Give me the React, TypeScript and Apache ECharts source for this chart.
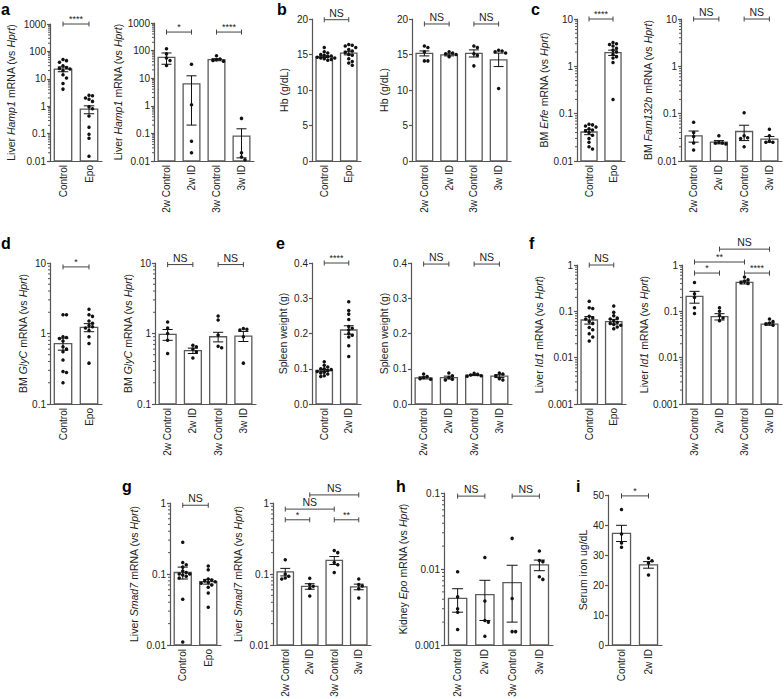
import React, { useEffect, useRef } from 'react';
import * as echarts from 'echarts';

const FONT = '"Liberation Sans", Arial, Helvetica, sans-serif';

// ---------- categories ----------
const catsEpo = ['Control', 'Epo'];
const catsWeeks = ['2w Control', '2w ID', '3w Control', '3w ID'];
const catsSpleen = ['Control', '2w ID'];
const catsId1Weeks = ['3w Control', '2w ID', '3w Control', '3w ID'];
const catsIron = ['Control', '2w ID'];

type Sig = [number, number, number, string];

// ---------- a: Liver Hamp1 ----------
const hampEpoMean = [22.6, 0.78];
const hampEpoSem = [4.5, 0.25];
const hampEpoPts = [
  [51, 46, 40, 30, 26, 24, 22.6, 19.6, 14, 10.6, 6.7, 4.2],
  [2.5, 2.4, 2.0, 1.8, 1.5, 0.95, 0.8, 0.44, 0.17, 0.095, 0.068, 0.015],
];
const hampEpoSig: Sig[] = [[0, 1, 1000, '****']];

const hampWkMean = [57, 6.2, 47, 0.08];
const hampWkSem = [25, 6, 4, 0.067];
const hampWkPts = [
  [117, 76, 54, 44, 29],
  [32, 1.1, 0.052, 0.02],
  [65, 50, 47, 44, 41],
  [0.35, 0.02, 0.014, 0.011],
];
const hampWkSig: Sig[] = [[0, 1, 470, '*'], [2, 3, 470, '****']];

// ---------- b: Hb ----------
const hbEpoMean = [14.7, 15.2];
const hbEpoSem = [0.12, 0.25];
const hbEpoPts = [
  [16.0, 15.4, 15.2, 15.0, 14.9, 14.8, 14.7, 14.6, 14.5, 14.5, 14.4, 14.3, 14.2],
  [16.4, 16.3, 16.2, 16.0, 15.7, 15.5, 15.3, 15.0, 14.9, 14.4, 14.0, 13.8, 13.5],
];
const hbEpoSig: Sig[] = [[0, 1, 19.9, 'NS']];

const hbWkMean = [15.15, 14.95, 15.15, 14.25];
const hbWkSem = [0.35, 0.15, 0.5, 0.95];
const hbWkPts = [
  [16.2, 16.0, 15.4, 14.1, 14.1],
  [15.4, 15.2, 15.1, 15.0, 14.7],
  [16.2, 16.0, 15.1, 14.9, 13.4],
  [15.6, 15.5, 15.4, 15.2, 10.2],
];
const hbWkSig: Sig[] = [[0, 1, 19.3, 'NS'], [2, 3, 19.3, 'NS']];

// ---------- c: BM Erfe / Fam132b ----------
const erfeMean = [0.041, 1.95];
const erfeSem = [0.005, 0.25];
const erfePts = [
  [0.06, 0.058, 0.055, 0.052, 0.048, 0.045, 0.043, 0.04, 0.035, 0.03, 0.025, 0.02, 0.018],
  [3.2, 3.0, 2.9, 2.7, 2.4, 2.2, 2.0, 1.8, 1.6, 1.5, 1.2, 0.2],
];
const erfeSig: Sig[] = [[0, 1, 10, '****']];

const famMean = [0.034, 0.025, 0.042, 0.029];
const famSem = [0.009, 0.002, 0.015, 0.004];
const famPts = [
  [0.066, 0.04, 0.033, 0.024, 0.017],
  [0.034, 0.025, 0.024, 0.024, 0.023],
  [0.105, 0.034, 0.031, 0.03, 0.02],
  [0.047, 0.034, 0.026, 0.025, 0.025],
];
const famSig: Sig[] = [[0, 1, 10, 'NS'], [2, 3, 10, 'NS']];

// ---------- d: BM GlyC ----------
const glyEpoMean = [0.72, 1.22];
const glyEpoSem = [0.14, 0.16];
const glyEpoPts = [
  [1.85, 1.85, 0.9, 0.88, 0.85, 0.78, 0.65, 0.6, 0.55, 0.42, 0.29, 0.28, 0.2],
  [2.2, 1.85, 1.75, 1.5, 1.4, 1.3, 1.25, 1.2, 1.1, 0.9, 0.72, 0.38],
];
const glyEpoSig: Sig[] = [[0, 1, 8.8, '*']];

const glyWkMean = [0.97, 0.57, 0.9, 0.92];
const glyWkSem = [0.17, 0.05, 0.14, 0.15];
const glyWkPts = [
  [1.46, 1.2, 1.0, 0.8, 0.52],
  [0.68, 0.65, 0.6, 0.55, 0.45],
  [1.77, 1.55, 0.95, 0.66, 0.63],
  [1.18, 1.15, 1.12, 0.9, 0.38],
];
const glyWkSig: Sig[] = [[0, 1, 9.5, 'NS'], [2, 3, 9.5, 'NS']];

// ---------- e: Spleen weight ----------
const spleenMean = [0.095, 0.21];
const spleenSem = [0.003, 0.012];
const spleenPts = [
  [0.12, 0.11, 0.105, 0.1, 0.1, 0.098, 0.095, 0.092, 0.09, 0.088, 0.085, 0.08, 0.078],
  [0.29, 0.265, 0.255, 0.24, 0.22, 0.215, 0.21, 0.2, 0.195, 0.19, 0.165, 0.135],
];
const spleenSig: Sig[] = [[0, 1, 0.4, '****']];

const spleenWkMean = [0.074, 0.075, 0.082, 0.079];
const spleenWkSem = [0.003, 0.004, 0.0015, 0.004];
const spleenWkPts = [
  [0.085, 0.078, 0.075, 0.072, 0.07],
  [0.088, 0.08, 0.075, 0.07, 0.068],
  [0.087, 0.084, 0.082, 0.08, 0.079],
  [0.088, 0.085, 0.08, 0.072, 0.068],
];
const spleenWkSig: Sig[] = [[0, 1, 0.397, 'NS'], [2, 3, 0.397, 'NS']];

// ---------- f: Liver Id1 ----------
const id1EpoMean = [0.065, 0.06];
const id1EpoSem = [0.012, 0.007];
const id1EpoPts = [
  [0.165, 0.12, 0.115, 0.078, 0.072, 0.068, 0.06, 0.055, 0.045, 0.04, 0.033, 0.028, 0.023],
  [0.13, 0.095, 0.08, 0.072, 0.068, 0.062, 0.058, 0.055, 0.052, 0.05, 0.046, 0.042],
];
const id1EpoSig: Sig[] = [[0, 1, 1, 'NS']];

const id1WkMean = [0.21, 0.077, 0.42, 0.053];
const id1WkSem = [0.06, 0.012, 0.03, 0.003];
const id1WkPts = [
  [0.42, 0.24, 0.2, 0.12, 0.09],
  [0.12, 0.1, 0.081, 0.072, 0.063],
  [0.55, 0.48, 0.45, 0.42, 0.4],
  [0.068, 0.06, 0.056, 0.053, 0.05],
];
const id1WkSig: Sig[] = [[1, 3, 2.2, 'NS'], [0, 2, 1.16, '**'], [0, 1, 0.67, '*'], [2, 3, 0.67, '****']];

// ---------- g: Liver Smad7 ----------
const smadEpoMean = [0.105, 0.078];
const smadEpoSem = [0.02, 0.006];
const smadEpoPts = [
  [0.28, 0.145, 0.135, 0.125, 0.11, 0.105, 0.1, 0.1, 0.097, 0.093, 0.088, 0.044, 0.011],
  [0.13, 0.115, 0.085, 0.082, 0.08, 0.078, 0.076, 0.074, 0.07, 0.065, 0.054, 0.034],
];
const smadEpoSig: Sig[] = [[0, 1, 0.93, 'NS']];

const smadWkMean = [0.107, 0.067, 0.156, 0.066];
const smadWkSem = [0.013, 0.006, 0.02, 0.006];
const smadWkPts = [
  [0.159, 0.1, 0.093, 0.088, 0.085],
  [0.087, 0.071, 0.067, 0.063, 0.049],
  [0.215, 0.2, 0.145, 0.135, 0.105],
  [0.085, 0.071, 0.068, 0.062, 0.046],
];
const smadWkSig: Sig[] = [[1, 3, 1.3, 'NS'], [0, 2, 0.82, 'NS'], [0, 1, 0.58, '*'], [2, 3, 0.58, '**']];

// ---------- h: Kidney Epo ----------
const epoMean = [0.0041, 0.0046, 0.0066, 0.0113];
const epoSem = [0.0014, 0.0025, 0.0046, 0.0018];
const epoPts = [
  [0.0092, 0.0043, 0.003, 0.0027, 0.0016],
  [0.0142, 0.0038, 0.0021, 0.002, 0.0013],
  [0.0253, 0.0041, 0.0015, 0.0015],
  [0.0172, 0.0129, 0.0125, 0.0079, 0.0073],
];
const epoSig: Sig[] = [[0, 1, 0.091, 'NS'], [2, 3, 0.091, 'NS']];

// ---------- i: Serum iron ----------
const ironMean = [37.2, 26.7];
const ironSem = [2.7, 1.1];
const ironPts = [
  [45.2, 37, 34, 32.6],
  [28.9, 28.1, 27.3, 23.3],
];
const ironSig: Sig[] = [[0, 1, 49.7, '*']];

// ---------- layout (positions only) ----------
interface Panel {
  cats: string[]; mean: number[]; sem: number[]; pts: number[][]; sig: Sig[];
  log: boolean; min: number; max: number; interval?: number; fixed?: number;
  name: string; box: [number, number, number, number]; gap: number;
}

const panels: Panel[] = [
  { cats: catsEpo, mean: hampEpoMean, sem: hampEpoSem, pts: hampEpoPts, sig: hampEpoSig, log: true, min: 0.01, max: 1000, name: 'Liver {i|Hamp1} mRNA (vs {i|Hprt})', box: [50, 24, 52, 137], gap: 34 },
  { cats: catsWeeks, mean: hampWkMean, sem: hampWkSem, pts: hampWkPts, sig: hampWkSig, log: true, min: 0.01, max: 1000, name: 'Liver {i|Hamp1} mRNA (vs {i|Hprt})', box: [154, 23, 100, 138], gap: 28 },
  { cats: catsEpo, mean: hbEpoMean, sem: hbEpoSem, pts: hbEpoPts, sig: hbEpoSig, log: false, min: 0, max: 20, interval: 5, name: 'Hb (g/dL)', box: [312, 19, 49, 142], gap: 23 },
  { cats: catsWeeks, mean: hbWkMean, sem: hbWkSem, pts: hbWkPts, sig: hbWkSig, log: false, min: 0, max: 20, interval: 5, name: 'Hb (g/dL)', box: [412, 19, 99, 142], gap: 23 },
  { cats: catsEpo, mean: erfeMean, sem: erfeSem, pts: erfePts, sig: erfeSig, log: true, min: 0.01, max: 10, name: 'BM {i|Erfe} mRNA (vs {i|Hprt})', box: [577, 19, 48, 142], gap: 22 },
  { cats: catsWeeks, mean: famMean, sem: famSem, pts: famPts, sig: famSig, log: true, min: 0.01, max: 10, name: 'BM {i|Fam132b} mRNA (vs {i|Hprt})', box: [681, 19, 101, 142], gap: 22 },
  { cats: catsEpo, mean: glyEpoMean, sem: glyEpoSem, pts: glyEpoPts, sig: glyEpoSig, log: true, min: 0.1, max: 10, name: 'BM {i|GlyC} mRNA (vs {i|Hprt})', box: [50, 263, 52, 141], gap: 19 },
  { cats: catsWeeks, mean: glyWkMean, sem: glyWkSem, pts: glyWkPts, sig: glyWkSig, log: true, min: 0.1, max: 10, name: 'BM {i|GlyC} mRNA (vs {i|Hprt})', box: [155, 263, 101, 141], gap: 19 },
  { cats: catsSpleen, mean: spleenMean, sem: spleenSem, pts: spleenPts, sig: spleenSig, log: false, min: 0, max: 0.4, interval: 0.1, fixed: 1, name: 'Spleen weight (g)', box: [312, 263, 49, 141], gap: 24 },
  { cats: catsWeeks, mean: spleenWkMean, sem: spleenWkSem, pts: spleenWkPts, sig: spleenWkSig, log: false, min: 0, max: 0.4, interval: 0.1, fixed: 1, name: 'Spleen weight (g)', box: [411, 263, 101, 141], gap: 18 },
  { cats: catsEpo, mean: id1EpoMean, sem: id1EpoSem, pts: id1EpoPts, sig: id1EpoSig, log: true, min: 0.001, max: 1, name: 'Liver {i|Id1} mRNA (vs {i|Hprt})', box: [577, 265, 49, 139], gap: 26 },
  { cats: catsId1Weeks, mean: id1WkMean, sem: id1WkSem, pts: id1WkPts, sig: id1WkSig, log: true, min: 0.001, max: 1, name: 'Liver {i|Id1} mRNA (vs {i|Hprt})', box: [682, 265, 100, 139], gap: 23 },
  { cats: catsEpo, mean: smadEpoMean, sem: smadEpoSem, pts: smadEpoPts, sig: smadEpoSig, log: true, min: 0.01, max: 1, name: 'Liver {i|Smad7} mRNA (vs {i|Hprt})', box: [170, 503, 51, 142], gap: 31 },
  { cats: catsWeeks, mean: smadWkMean, sem: smadWkSem, pts: smadWkPts, sig: smadWkSig, log: true, min: 0.01, max: 1, name: 'Liver {i|Smad7} mRNA (vs {i|Hprt})', box: [273, 503, 98, 142], gap: 30 },
  { cats: catsWeeks, mean: epoMean, sem: epoSem, pts: epoPts, sig: epoSig, log: true, min: 0.001, max: 0.1, name: 'Kidney {i|Epo} mRNA (vs {i|Hprt})', box: [444, 493, 109, 152], gap: 36 },
  { cats: catsIron, mean: ironMean, sem: ironSem, pts: ironPts, sig: ironSig, log: false, min: 0, max: 50, interval: 10, name: 'Serum iron ug/dL', box: [608, 495, 54, 150], gap: 20 },
];

const panelLetters: [string, number, number][] = [
  ['a', 1, 9], ['b', 277, 9], ['c', 531, 9],
  ['d', 1, 243], ['e', 276, 243], ['f', 529, 243],
  ['g', 122, 486], ['h', 396, 486], ['i', 576, 486],
];

const AXIS = '#555';
const BAR = '#5a5a5a';
const INK = '#111';
const TEXT = '#222';

function logLabel(v: number) {
  const r = Math.round(Math.log10(v));
  return r >= 0 ? String(Math.pow(10, r)) : Math.pow(10, r).toFixed(-r);
}

function buildOption() {
  const grid: any[] = [];
  const xAxis: any[] = [];
  const yAxis: any[] = [];
  const series: any[] = [];

  panels.forEach((p, k) => {
    grid.push({ left: p.box[0], top: p.box[1], width: p.box[2], height: p.box[3], containLabel: false, outerBoundsMode: 'none' });
    xAxis.push({
      type: 'category', gridIndex: k, data: p.cats,
      axisLine: { lineStyle: { color: AXIS, width: 1.2 } },
      axisTick: { show: false },
      splitLine: { show: false },
      axisLabel: { rotate: 90, interval: 0, fontSize: 10, color: TEXT, margin: 4, fontFamily: FONT },
    });
    yAxis.push({
      type: p.log ? 'log' : 'value', logBase: 10, gridIndex: k, min: p.min, max: p.max,
      interval: p.interval,
      axisLine: { show: true, lineStyle: { color: AXIS, width: 1.2 } },
      axisTick: { show: true, length: 3, lineStyle: { color: AXIS, width: 1.2 } },
      splitLine: { show: false },
      axisLabel: {
        fontSize: 10, color: TEXT, margin: 4, fontFamily: FONT,
        formatter: p.log ? (v: number) => logLabel(v) : (v: number) => (p.fixed ? v.toFixed(p.fixed) : String(Math.round(v))),
      },
      name: p.name, nameLocation: 'middle', nameRotate: 90, nameGap: p.gap,
      nameTextStyle: {
        fontSize: 10.5, color: TEXT, fontFamily: FONT,
        rich: { i: { fontStyle: 'italic', fontSize: 10.5, color: TEXT, fontFamily: FONT } },
      },
    });

    // minor ticks on log axes
    if (p.log) {
      const minor: number[][] = [];
      const e0 = Math.round(Math.log10(p.min));
      const e1 = Math.round(Math.log10(p.max));
      for (let e = e0; e < e1; e++) {
        for (let m = 2; m <= 9; m++) minor.push([0, m * Math.pow(10, e)]);
      }
      series.push({
        type: 'custom', xAxisIndex: k, yAxisIndex: k, silent: true, z: 1,
        data: minor,
        renderItem: (params: any, api: any) => {
          const y = api.coord([0, api.value(1)])[1];
          const x = params.coordSys.x;
          return { type: 'line', shape: { x1: x - 2, y1: y, x2: x, y2: y }, style: { stroke: AXIS, lineWidth: 1 } };
        },
      });
    }

    // bars + error bars
    series.push({
      type: 'custom', xAxisIndex: k, yAxisIndex: k, silent: true, z: 2,
      data: p.mean.map((m, i) => [i, m, p.sem[i]]),
      renderItem: (params: any, api: any) => {
        const i = api.value(0);
        const m = api.value(1);
        const s = api.value(2);
        const band = params.coordSys.width / p.cats.length;
        const bw = band * 0.67;
        const top = api.coord([i, m]);
        const base = api.coord([i, p.min]);
        const hi = api.coord([i, m + s]);
        const loV = m - s;
        const lo = api.coord([i, loV > p.min ? loV : p.min]);
        const cap = bw * 0.3;
        const cx = top[0];
        const children: any[] = [
          { type: 'rect', shape: { x: cx - bw / 2, y: top[1], width: bw, height: base[1] - top[1] }, style: { fill: '#fff', stroke: BAR, lineWidth: 1.3 } },
          { type: 'line', shape: { x1: cx, y1: hi[1], x2: cx, y2: lo[1] }, style: { stroke: INK, lineWidth: 1 } },
          { type: 'line', shape: { x1: cx - cap, y1: hi[1], x2: cx + cap, y2: hi[1] }, style: { stroke: INK, lineWidth: 1 } },
        ];
        if (loV > p.min) children.push({ type: 'line', shape: { x1: cx - cap, y1: lo[1], x2: cx + cap, y2: lo[1] }, style: { stroke: INK, lineWidth: 1 } });
        return { type: 'group', children };
      },
    });

    // dots (beeswarm)
    series.push({
      type: 'custom', xAxisIndex: k, yAxisIndex: k, silent: true, z: 3,
      data: p.mean.map((m, i) => [i, m]),
      renderItem: (params: any, api: any) => {
        const i = api.value(0);
        const cx = api.coord([i, p.min])[0];
        const vals = p.pts[i].slice().sort((a, b) => b - a);
        const placed: number[][] = [];
        const D = 3.5;
        const MIN2 = 3.4 * 3.4;
        const steps = [0, 1, -1, 2, -2, 3, -3, 4, -4];
        const children = vals.map((v) => {
          const y = api.coord([i, v])[1];
          let x = cx;
          for (const st of steps) {
            const xx = cx + st * D;
            if (placed.every(([px, py]) => (px - xx) * (px - xx) + (py - y) * (py - y) >= MIN2)) { x = xx; break; }
          }
          placed.push([x, y]);
          return { type: 'circle', shape: { cx: x, cy: y, r: 1.75 }, style: { fill: INK } };
        });
        return { type: 'group', children };
      },
    });

    // significance brackets
    series.push({
      type: 'custom', xAxisIndex: k, yAxisIndex: k, silent: true, z: 4, clip: false,
      data: p.sig.map((s) => [s[0], s[2]]),
      renderItem: (params: any, api: any) => {
        const s = p.sig[params.dataIndex];
        const a = api.coord([s[0], s[2]]);
        const b = api.coord([s[1], s[2]]);
        const y = a[1];
        const star = s[3] !== 'NS';
        const st = { stroke: '#444', lineWidth: 1 };
        return {
          type: 'group',
          children: [
            { type: 'line', shape: { x1: a[0], y1: y, x2: b[0], y2: y }, style: st },
            { type: 'line', shape: { x1: a[0], y1: y - 2.5, x2: a[0], y2: y + 2.5 }, style: st },
            { type: 'line', shape: { x1: b[0], y1: y - 2.5, x2: b[0], y2: y + 2.5 }, style: st },
            {
              type: 'text', x: (a[0] + b[0]) / 2, y: star ? y - 0.5 : y - 1.5,
              style: { text: s[3], fontSize: star ? 9 : 10.5, fontFamily: FONT, fill: TEXT, align: 'center', verticalAlign: 'bottom' },
            },
          ],
        };
      },
    });
  });

  const graphic = panelLetters.map(([t, x, y]) => ({
    type: 'text', x, y,
    style: { text: t, fontSize: 16, fontWeight: 'bold', fontFamily: FONT, fill: '#000', verticalAlign: 'middle', align: 'left' },
  }));

  return { animation: false, backgroundColor: '#fff', grid, xAxis, yAxis, series, graphic };
}

export default function App() {
  const ref = useRef<HTMLDivElement>(null);
  useEffect(() => {
    document.body.style.margin = '0';
    if (!ref.current) return;
    const chart = echarts.init(ref.current, undefined, { renderer: 'svg' });
    chart.setOption(buildOption() as any);
    return () => chart.dispose();
  }, []);
  return <div ref={ref} style={{ width: 784, height: 699 }} />;
}
